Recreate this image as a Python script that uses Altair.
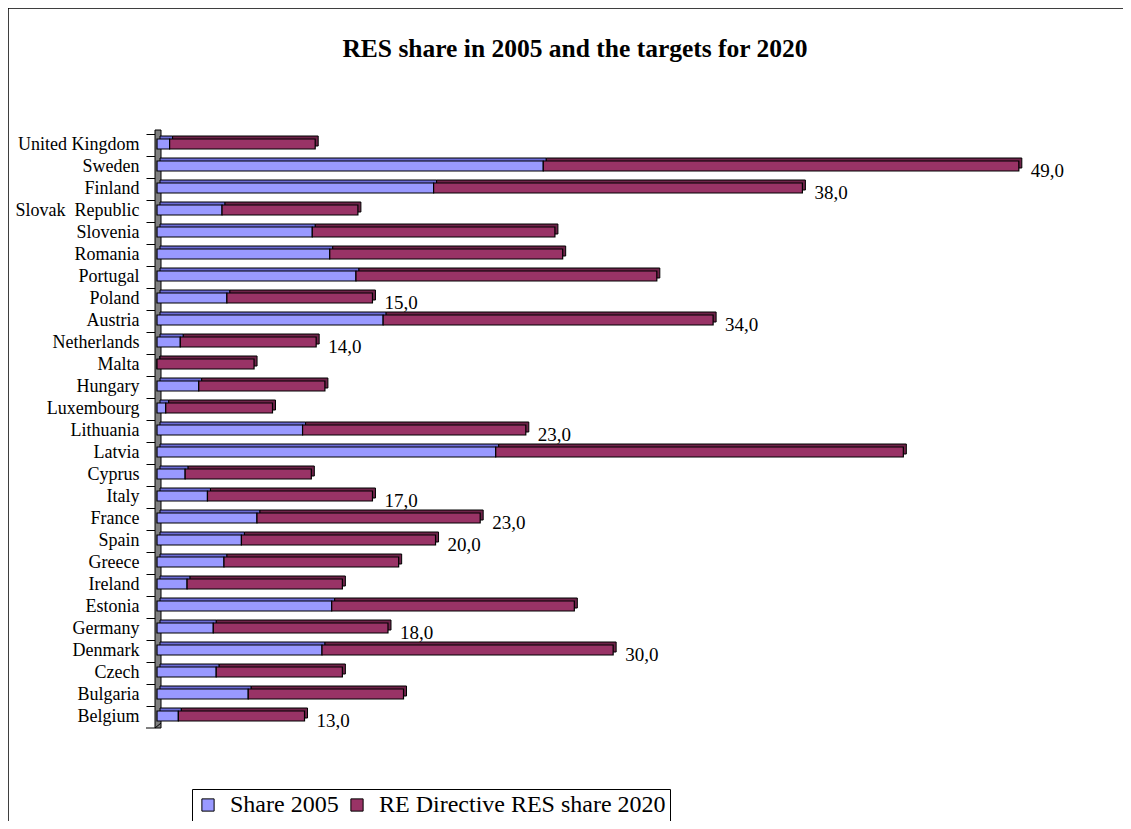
import altair as alt
import pandas as pd

# Countries listed bottom -> top as in the chart
countries = ["Belgium", "Bulgaria", "Czech", "Denmark", "Germany", "Estonia", "Ireland",
             "Greece", "Spain", "France", "Italy", "Cyprus", "Latvia", "Lithuania",
             "Luxembourg", "Hungary", "Malta", "Netherlands", "Austria", "Poland",
             "Portugal", "Romania", "Slovenia", "Slovak\u00a0 Republic", "Finland",
             "Sweden", "United Kingdom"]
share_2005 = [2.2, 9.4, 6.1, 17.0, 5.8, 18.0, 3.1, 6.9, 8.7, 10.3, 5.2, 2.9, 34.9, 15.0,
              0.9, 4.3, 0.0, 2.4, 23.3, 7.2, 20.5, 17.8, 16.0, 6.7, 28.5, 39.8, 1.3]
target_2020 = [13, 16, 13, 30, 18, 25, 16, 18, 20, 23, 17, 13, 42, 23,
               11, 13, 10, 14, 34, 15, 31, 24, 25, 14, 38, 49, 15]
labeled = ["Sweden", "Finland", "Poland", "Austria", "Netherlands", "Lithuania",
           "Italy", "France", "Spain", "Germany", "Denmark", "Belgium"]
series = ["Share 2005", "RE Directive RES share 2020"]
colors = ["#9999FF", "#993366"]
title_text = "RES share in 2005 and the targets for 2020"

df = pd.DataFrame({"country": countries, series[0]: share_2005, series[1]: target_2020})

W, H = 922, 594
FONT = "Liberation Serif"
order_top_down = list(reversed(countries))

y_enc = alt.Y("country:N", sort=order_top_down,
              scale=alt.Scale(paddingInner=0, paddingOuter=0),
              axis=alt.Axis(title=None, domain=False, bandPosition=0, tickSize=9,
                            tickColor="black", tickWidth=1, offset=2, labelPadding=7,
                            labelFont=FONT, labelFontSize=18, labelColor="black"))
x_scale = alt.Scale(domain=[0, 95], nice=False, zero=True)

base = alt.Chart(df)
folded = base.transform_fold(series, as_=["series", "value"]).transform_calculate(
    ord="datum.series == 'Share 2005' ? 0 : 1")

# decorative frame around the whole chart
frame = alt.Chart(pd.DataFrame({"a": [0]})).mark_rect(
    fill=None, stroke="black", strokeWidth=1.5).encode(
    x=alt.value(-149), x2=alt.value(1300), y=alt.value(-126), y2=alt.value(900))

# 3D wall behind the axis
wall = alt.Chart(pd.DataFrame({"a": [0]})).mark_rect(
    fill="#808080", stroke="black", strokeWidth=1).encode(
    x=alt.value(-2), x2=alt.value(4), y=alt.value(-4), y2=alt.value(H))
bottom_tick = alt.Chart(pd.DataFrame({"a": [0]})).mark_rule(
    color="black", strokeWidth=1).encode(
    x=alt.value(-11), x2=alt.value(-2), y=alt.value(H))
floor = alt.Chart(pd.DataFrame({"a": [0]})).mark_rule(
    color="black", strokeWidth=1).encode(
    x=alt.value(-2), x2=alt.value(4), y=alt.value(H), y2=alt.value(H - 5))

back = folded.mark_bar(size=10, xOffset=3, yOffset=-4, stroke="black",
                       strokeWidth=1).encode(
    y=y_enc,
    x=alt.X("value:Q", stack="zero", scale=x_scale, axis=None),
    order=alt.Order("ord:Q"),
    fill=alt.condition("datum.series == 'Share 2005'", alt.value("#6b6bd6"),
                       alt.value("#6e2349")))

front = folded.mark_bar(size=10, yOffset=-1, stroke="black", strokeWidth=1.2).encode(
    y=y_enc,
    x=alt.X("value:Q", stack="zero", scale=x_scale, axis=None),
    order=alt.Order("ord:Q"),
    color=alt.Color("series:N", scale=alt.Scale(domain=series, range=colors),
                    sort=series,
                    legend=alt.Legend(title=None, orient="none", legendX=35, legendY=655,
                                      direction="horizontal", symbolType="square",
                                      symbolSize=150, symbolStrokeColor="black",
                                      symbolStrokeWidth=1, labelFont=FONT,
                                      labelFontSize=24, labelColor="black",
                                      labelOffset=10, columnPadding=6,
                                      strokeColor="black", fillColor="white",
                                      padding=4, labelLimit=500)))

labels = base.transform_filter(
    alt.FieldOneOfPredicate(field="country", oneOf=labeled)).transform_calculate(
    total="datum['Share 2005'] + datum['RE Directive RES share 2020']",
    lbl="replace(format(datum['RE Directive RES share 2020'], '.1f'), '.', ',')"
).mark_text(align="left", baseline="middle", dx=12, dy=4, font=FONT, fontSize=19,
            color="black").encode(
    y=alt.Y("country:N", sort=order_top_down),
    x=alt.X("total:Q", scale=x_scale, axis=None),
    text="lbl:N")

title = alt.Chart(pd.DataFrame({"t": [title_text]})).mark_text(
    align="center", baseline="alphabetic", font=FONT, fontSize=25.5,
    fontWeight="bold", color="black").encode(
    x=alt.value(418), y=alt.value(-77), text="t:N")

chart = alt.layer(frame, wall, bottom_tick, floor, back, front, labels, title).properties(
    width=W, height=H,
    autosize=alt.AutoSizeParams(type="none"),
    padding={"left": 149, "top": 126, "right": 44, "bottom": 93},
    background="white"
).configure_view(stroke=None)

chart.save("out.html", embed_options={"renderer": "svg", "actions": False})
